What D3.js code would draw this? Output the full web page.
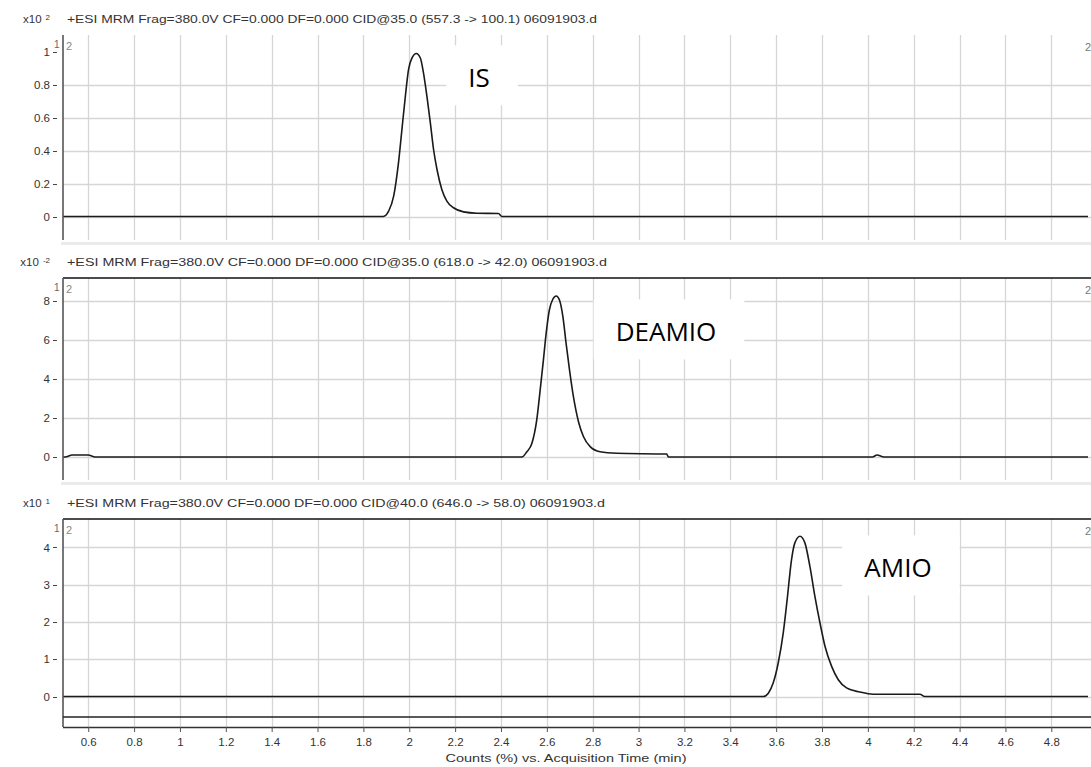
<!DOCTYPE html>
<html>
<head>
<meta charset="utf-8">
<script src="https://cdn.jsdelivr.net/npm/d3@7"></script>
<style>
  body { margin: 0; background: #fff; }
  svg { display: block; }
  text { font-family: "Liberation Sans", Arial, sans-serif; }
</style>
</head>
<body>
<div id="root"></div>
<script>
const width = 1091,
      height = 767

// x axis ticks (acquisition time, min)
const xTicks = [0.6, 0.8, 1, 1.2, 1.4, 1.6, 1.8, 2, 2.2, 2.4, 2.6, 2.8, 3, 3.2, 3.4, 3.6, 3.8, 4, 4.2, 4.4, 4.6, 4.8]
const xTickLabels = ['0.6', '0.8', '1', '1.2', '1.4', '1.6', '1.8', '2', '2.2', '2.4', '2.6', '2.8', '3', '3.2', '3.4', '3.6', '3.8', '4', '4.2', '4.4', '4.6', '4.8']

const panelTitles = [
  '+ESI MRM Frag=380.0V CF=0.000 DF=0.000 CID@35.0 (557.3 -> 100.1) 06091903.d',
  '+ESI MRM Frag=380.0V CF=0.000 DF=0.000 CID@35.0 (618.0 -> 42.0) 06091903.d',
  '+ESI MRM Frag=380.0V CF=0.000 DF=0.000 CID@40.0 (646.0 -> 58.0) 06091903.d'
]
const panelExponents = ['2', '-2', '1']
const peakLabels = ['IS', 'DEAMIO', 'AMIO']

const yTicksIS = [0, 0.2, 0.4, 0.6, 0.8, 1]
const yTicksDEAMIO = [0, 2, 4, 6, 8]
const yTicksAMIO = [0, 1, 2, 3, 4]

// IS trace (x10^2 counts)
const isTime = [0.49, 1.887, 1.910, 1.932, 1.953, 1.968, 1.983, 1.997, 2.012, 2.031, 2.048, 2.062, 2.077, 2.092, 2.106, 2.121, 2.142, 2.164, 2.193, 2.237, 2.295, 2.389, 2.404, 4.96]
const isCounts = [0, 0, 0.032, 0.123, 0.325, 0.527, 0.729, 0.891, 0.962, 0.988, 0.962, 0.871, 0.729, 0.568, 0.406, 0.285, 0.164, 0.093, 0.053, 0.028, 0.020, 0.018, 0, 0]

// DEAMIO trace (x10^-2 counts)
const deamioTime = [0.49, 0.50, 0.53, 0.60, 0.63, 2.491, 2.513, 2.535, 2.556, 2.571, 2.585, 2.597, 2.611, 2.626, 2.641, 2.655, 2.670, 2.684, 2.699, 2.716, 2.738, 2.760, 2.789, 2.832, 2.905, 3.123, 3.130, 4.02, 4.04, 4.07, 4.96]
const deamioCounts = [0, 0, 0.1, 0.1, 0, 0, 0.27, 0.70, 1.90, 3.44, 4.97, 6.34, 7.54, 8.09, 8.26, 8.05, 7.20, 5.83, 4.46, 3.09, 1.81, 1.04, 0.53, 0.27, 0.19, 0.15, 0, 0, 0.1, 0, 0]

// AMIO trace (x10^1 counts)
const amioTime = [0.49, 3.544, 3.566, 3.587, 3.609, 3.631, 3.648, 3.667, 3.682, 3.704, 3.725, 3.747, 3.769, 3.791, 3.813, 3.842, 3.871, 3.907, 3.965, 4.023, 4.227, 4.248, 4.96]
const amioCounts = [0, 0, 0.09, 0.36, 0.90, 1.71, 2.60, 3.67, 4.13, 4.30, 4.13, 3.50, 2.69, 1.98, 1.35, 0.81, 0.45, 0.23, 0.12, 0.06, 0.06, 0, 0]

const panels = [
  { top: 35, bottom: 240, domain: [-0.1424, 1.1], ticks: yTicksIS, grid: [0, 0.2, 0.4, 0.6, 0.8], t: isTime, v: isCounts, border: false, label: [479, 78] },
  { top: 278, bottom: 480, domain: [-1.18, 9.18], ticks: yTicksDEAMIO, grid: yTicksDEAMIO, t: deamioTime, v: deamioCounts, border: true, label: [666, 332] },
  { top: 519, bottom: 717, domain: [-0.55, 4.765], ticks: yTicksAMIO, grid: yTicksAMIO, t: amioTime, v: amioCounts, border: true, label: [898, 568] }
]

const left = 63, right = 1091
const axisY = 727

const svg = d3.select('#root')
  .append('svg')
  .attr('width', width)
  .attr('height', height)

svg.append('rect').attr('width', width).attr('height', height).attr('fill', '#fff')

const x = d3.scaleLinear()
  .domain([0.49, 4.96])
  .range([left, 1088])

const titleLens = [530, 540, 538]

panels.forEach((p, i) => {
  const y = d3.scaleLinear().domain(p.domain).range([p.bottom, p.top])
  const g = svg.append('g')
  const gridBottom = i === 2 ? axisY : p.bottom

  // separator band below panel
  if (i < 2) {
    g.append('rect')
      .attr('x', left - 2).attr('y', p.bottom + 2)
      .attr('width', right - left + 2).attr('height', 3)
      .attr('fill', '#ebebeb')
  }

  // vertical grid
  g.selectAll('.vgrid')
    .data(xTicks)
    .enter().append('line')
    .attr('x1', d => Math.round(x(d)) + 0.5).attr('x2', d => Math.round(x(d)) + 0.5)
    .attr('y1', p.top).attr('y2', gridBottom)
    .attr('stroke', '#d6d6d6').attr('stroke-width', 1.3)

  // horizontal grid
  g.selectAll('.hgrid')
    .data(p.grid)
    .enter().append('line')
    .attr('x1', left).attr('x2', right)
    .attr('y1', d => Math.round(y(d)) + 0.5).attr('y2', d => Math.round(y(d)) + 0.5)
    .attr('stroke', '#d6d6d6').attr('stroke-width', 1.3)

  // peak label with white box
  const lab = g.append('text')
    .attr('x', p.label[0]).attr('y', p.label[1])
    .attr('dy', '0.36em')
    .attr('text-anchor', 'middle')
    .style('font-family', '"Open Sans", sans-serif')
    .style('font-size', '26px')
    .attr('fill', '#000')
    .text(peakLabels[i])
  const bb = lab.node().getBBox()
  g.insert('rect', 'text')
    .attr('x', bb.x - 22).attr('y', bb.y - 14)
    .attr('width', bb.width + 50).attr('height', bb.height + 24)
    .attr('fill', '#fff')

  // trace
  const line = d3.line()
    .x(d => x(d[0]))
    .y(d => y(d[1]))
    .curve(d3.curveMonotoneX)
  g.append('path')
    .datum(d3.zip(p.t, p.v))
    .attr('d', line)
    .attr('fill', 'none')
    .attr('stroke', '#1a1a1a')
    .attr('stroke-width', 1.6)

  // top border
  if (p.border) {
    g.append('line')
      .attr('x1', left).attr('x2', right)
      .attr('y1', p.top).attr('y2', p.top)
      .attr('stroke', '#111').attr('stroke-width', 1.6)
  }

  // y axis line
  g.append('line')
    .attr('x1', left).attr('x2', left)
    .attr('y1', p.top).attr('y2', i === 2 ? axisY : p.bottom)
    .attr('stroke', '#555').attr('stroke-width', 1.6)

  // y tick labels with dash marks
  g.selectAll('.ylab')
    .data(p.ticks)
    .enter().append('text')
    .attr('x', 50)
    .attr('y', d => y(d))
    .attr('dy', '0.35em')
    .attr('text-anchor', 'end')
    .style('font-size', '11.5px')
    .attr('fill', '#333')
    .text(d => d3.format('~g')(d))
  g.selectAll('.ydash')
    .data(p.ticks)
    .enter().append('line')
    .attr('x1', 53).attr('x2', 57)
    .attr('y1', d => Math.round(y(d)) + 0.5).attr('y2', d => Math.round(y(d)) + 0.5)
    .attr('stroke', '#444').attr('stroke-width', 1)

  // little trace markers
  g.append('text')
    .attr('x', 54).attr('y', p.top + 9).attr('dy', '0.35em')
    .style('font-size', '10px').attr('fill', '#666')
    .text('1')
  g.append('text')
    .attr('x', 66).attr('y', p.top + 11).attr('dy', '0.35em')
    .style('font-size', '11px').attr('fill', '#888')
    .text('2')
  g.append('text')
    .attr('x', 1085).attr('y', p.top + 12).attr('dy', '0.35em')
    .style('font-size', '11px').attr('fill', '#777')
    .text('2')

  // header
  const head = g.append('text')
    .attr('x', 50).attr('y', p.top - 16).attr('dy', '0.35em')
    .attr('text-anchor', 'end')
    .style('font-size', '11.5px').attr('fill', '#333')
  head.append('tspan').text('x10')
  head.append('tspan')
    .attr('dx', 4).attr('dy', '-0.35em')
    .style('font-size', '8px')
    .text(panelExponents[i])

  g.append('text')
    .attr('x', 67).attr('y', p.top - 16).attr('dy', '0.35em')
    .style('font-size', '11.5px').attr('fill', '#333')
    .attr('textLength', titleLens[i])
    .attr('lengthAdjust', 'spacingAndGlyphs')
    .text(panelTitles[i])
})

// bottom line of lowest panel and x axis
svg.append('line')
  .attr('x1', left).attr('x2', right)
  .attr('y1', 717).attr('y2', 717)
  .attr('stroke', '#222').attr('stroke-width', 1.6)

const xAxis = d3.axisBottom(x)
  .tickValues(xTicks)
  .tickFormat((d, i) => xTickLabels[i])
  .tickSize(5)
  .tickSizeOuter(0)

const ax = svg.append('g')
  .attr('transform', `translate(0,${axisY})`)
  .call(xAxis)
ax.select('.domain').attr('stroke', '#333').attr('stroke-width', 1.6)
  .attr('d', `M${left},0.5H${right}`)
ax.selectAll('.tick line').attr('stroke', '#555')
ax.selectAll('.tick text')
  .attr('y', 11)
  .style('font-family', '"Liberation Sans", Arial, sans-serif')
  .style('font-size', '11.5px')
  .attr('fill', '#333')

svg.append('text')
  .attr('x', 566).attr('y', 758)
  .attr('text-anchor', 'middle')
  .attr('dy', '0.35em')
  .style('font-size', '11px').attr('fill', '#333')
  .attr('textLength', 241)
  .attr('lengthAdjust', 'spacingAndGlyphs')
  .text('Counts (%) vs. Acquisition Time (min)')
</script>
</body>
</html>
